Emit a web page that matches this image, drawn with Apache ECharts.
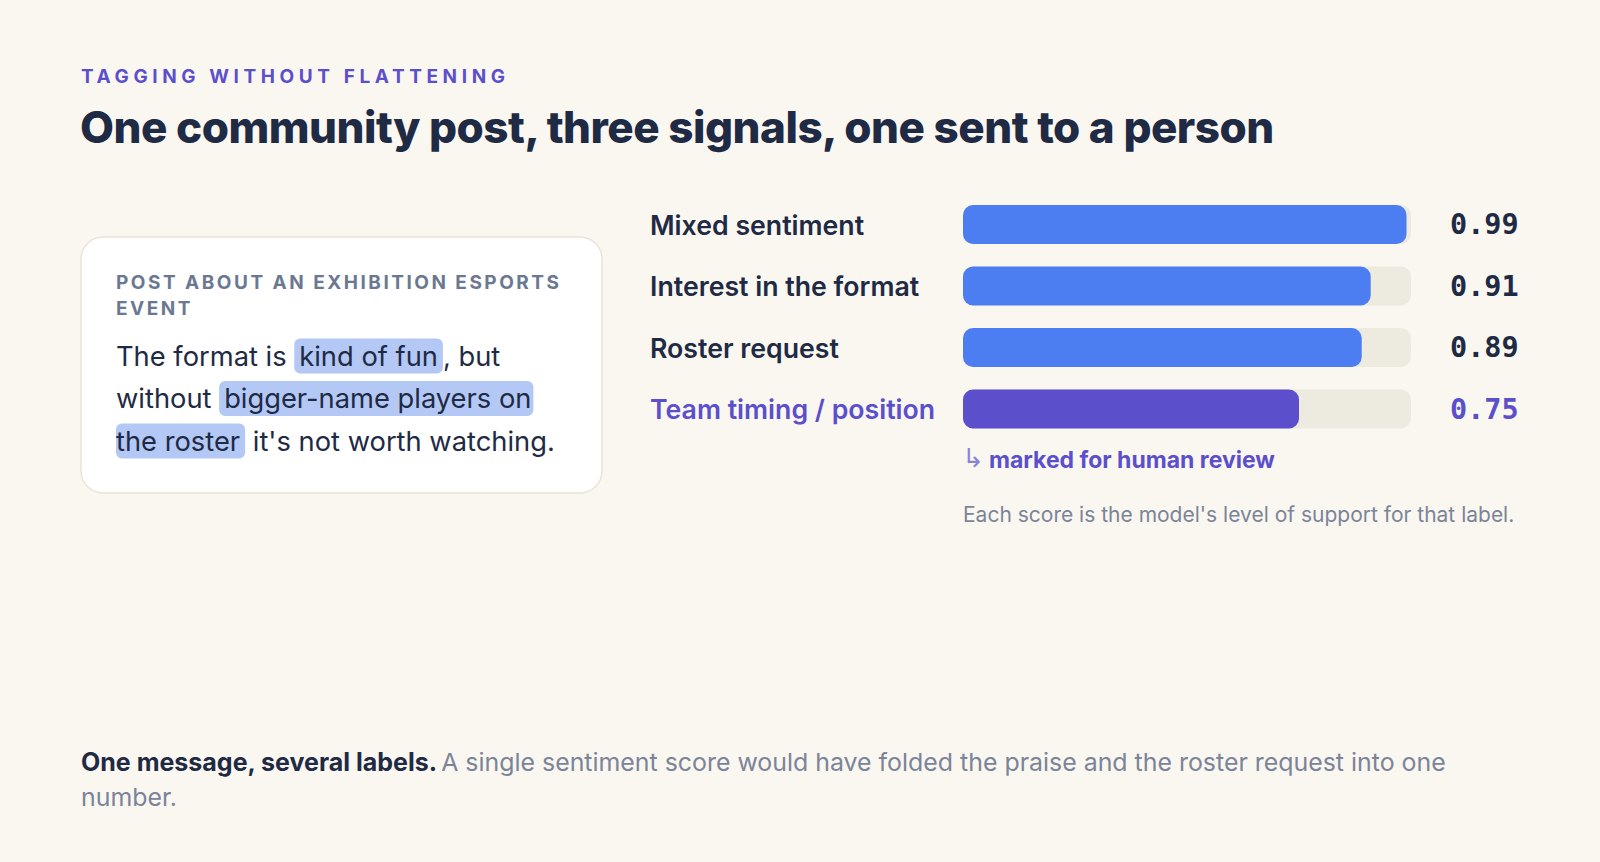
<!DOCTYPE html>
<html><head><meta charset="utf-8">
<script src="https://cdn.jsdelivr.net/npm/echarts@6/dist/echarts.min.js"></script>
<style>html,body{margin:0;padding:0;background:#FAF7F0;}#c{width:1600px;height:862px;}</style>
</head><body><div id="c"></div>
<script>
// ---- data ----
const eyebrow = 'TAGGING WITHOUT FLATTENING';
const title = 'One community post, three signals, one sent to a person';
const labels = ['Mixed sentiment', 'Interest in the format', 'Roster request', 'Team timing / position'];
const scores = [0.99, 0.91, 0.89, 0.75];
const flagged = [false, false, false, true];
const cardHeader = ['POST ABOUT AN EXHIBITION ESPORTS', 'EVENT'];
const postLines = [
  'The format is {hl|kind of fun}, but',
  'without {hlA|bigger-name players on}',
  '{hlB|the roster} it\'s not worth watching.'
];
const reviewArrow = '↳';
const reviewNote = 'marked for human review';
const scoreNote = "Each score is the model's level of support for that label.";
const footerBold = 'One message, several labels.';
const footerRest = ['A single sentiment score would have folded the praise and the roster request into one', 'number.'];

// ---- style ----
const BG = '#FAF7F0', DARK = '#1F2A44', GREY = '#7B8499', BLUE = '#4C7EF2', PURPLE = '#5B4FCB',
      TRACK = '#EDEAE0', HL = '#B4C8F6';
const SANS = 'Inter, "Noto Sans", sans-serif';
const MONO = '"DejaVu Sans Mono", monospace';

const chart = echarts.init(document.getElementById('c'), null, {renderer: 'svg', width: 1600, height: 862});
const hlPad = {hl: [4, 5, 4, 5], hlA: [4, 2, 4, 5], hlB: [4, 5, 4, 0]};
const rich = {};
Object.keys(hlPad).forEach(k => {
  rich[k] = {backgroundColor: HL, borderRadius: 6, padding: hlPad[k], fontSize: 27.3, fontFamily: SANS, fill: DARK, lineHeight: 42.5};
});

chart.setOption({
  backgroundColor: BG,
  animation: false,
  grid: {left: 963, width: 448, top: 193.75, height: 246, containLabel: false},
  xAxis: {type: 'value', min: 0, max: 1, show: false},
  yAxis: [{
    type: 'category', data: labels, inverse: true,
    axisLine: {show: false}, axisTick: {show: false}, splitLine: {show: false},
    axisLabel: {
      align: 'left', margin: 313, fontSize: 26.7, fontWeight: 600, fontFamily: SANS,
      color: (v, i) => flagged[i] ? PURPLE : DARK
    }
  }, {
    type: 'category', data: labels, inverse: true, position: 'right',
    axisLine: {show: false}, axisTick: {show: false}, splitLine: {show: false},
    axisLabel: {
      align: 'left', margin: 39, fontSize: 28.5, fontWeight: 'bold', fontFamily: MONO,
      formatter: (v, i) => scores[i].toFixed(2),
      color: (v, i) => flagged[i] ? PURPLE : DARK
    }
  }],
  series: [{
    type: 'bar', barWidth: 39,
    data: scores.map((s, i) => ({value: s, itemStyle: {color: flagged[i] ? PURPLE : BLUE}})),
    itemStyle: {borderRadius: 10},
    showBackground: true,
    backgroundStyle: {color: TRACK, borderRadius: 10}
  }],
  graphic: [
    {type: 'text', x: 81, y: 76, style: {text: eyebrow, fill: PURPLE, font: 'bold 19px ' + SANS, verticalAlign: 'middle'}},
    {type: 'text', x: 80, y: 127, style: {text: title, fill: DARK, font: '800 44px ' + SANS, verticalAlign: 'middle'}},
    {type: 'rect', shape: {x: 81, y: 237, width: 521, height: 256, r: 22},
     style: {fill: '#FFFFFF', stroke: '#EAE4D6', lineWidth: 1.5}},
    {type: 'text', x: 116, y: 295,
     style: {text: cardHeader.join('\n'), fill: '#6B7891', font: 'bold 19px ' + SANS, lineHeight: 26, verticalAlign: 'middle'}},
    {type: 'text', x: 116, y: 398.5,
     style: {text: postLines.join('\n'), fill: DARK, fontSize: 27.3, fontFamily: SANS, lineHeight: 42.5, verticalAlign: 'middle', rich: rich}},
    {type: 'text', x: 962, y: 458,
     style: {text: reviewArrow, fill: '#8A84D8', font: '26px "DejaVu Sans", sans-serif', verticalAlign: 'middle'}},
    {type: 'text', x: 989, y: 460,
     style: {text: reviewNote, fill: PURPLE, font: 'bold 23px ' + SANS, verticalAlign: 'middle'}},
    {type: 'text', x: 963, y: 514, style: {text: scoreNote, fill: GREY, font: '21px ' + SANS, verticalAlign: 'middle'}},
    {type: 'text', x: 81, y: 779.5,
     style: {text: '{b|' + footerBold + '} {r|' + footerRest[0] + '}\n{r|' + footerRest[1] + '}', verticalAlign: 'middle',
       rich: {b: {fontSize: 25, fontWeight: 'bold', fontFamily: SANS, fill: DARK, lineHeight: 35},
              r: {fontSize: 24.9, fontFamily: SANS, fill: GREY, lineHeight: 35}}}}
  ]
});

function applySpacing() {
  document.querySelectorAll('#c svg text').forEach(t => {
    const s = t.textContent;
    if (s === eyebrow) t.setAttribute('letter-spacing', '4.6px');
    else if (cardHeader.indexOf(s) >= 0) t.setAttribute('letter-spacing', '2.5px');
    else if (s === title) t.setAttribute('letter-spacing', '-0.5px');
  });
}
applySpacing();
chart.on('finished', applySpacing);
</script></body></html>
